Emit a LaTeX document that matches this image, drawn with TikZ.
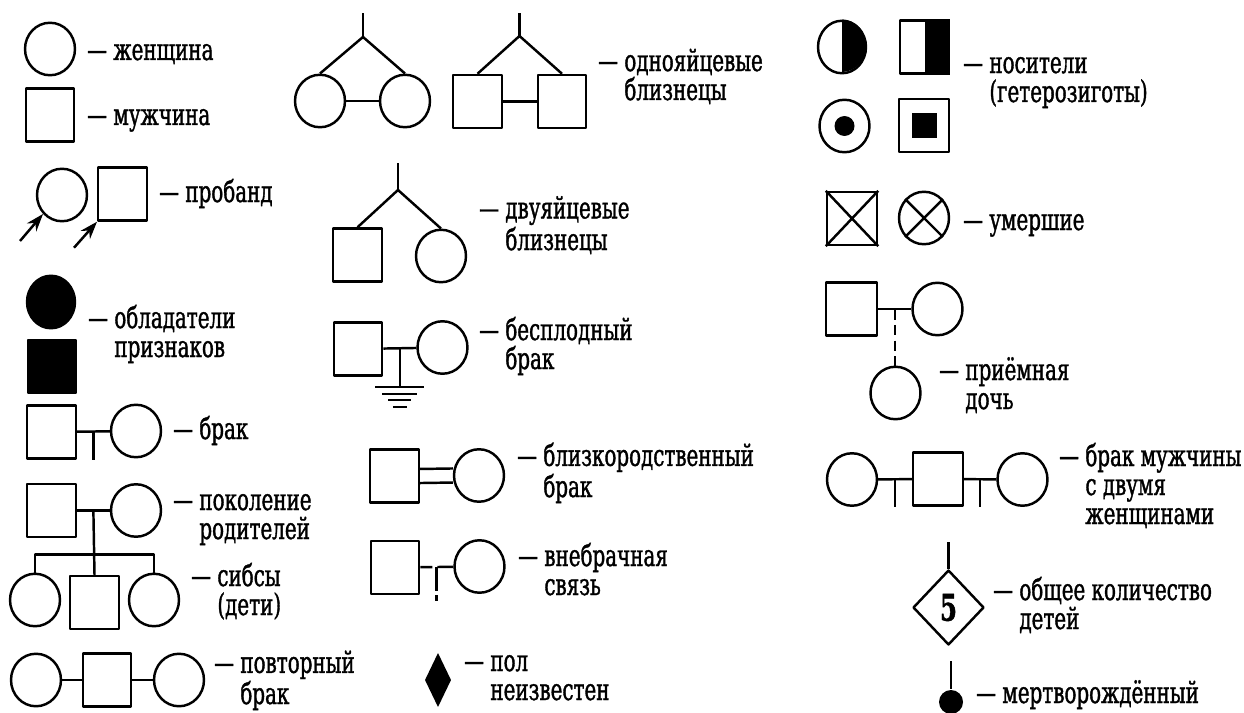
\documentclass[tikz,border=0pt]{standalone}
\usepackage{fontspec}
\setmainfont{DejaVu Serif}[FakeStretch=0.665, FakeBold=1.2]
\usetikzlibrary{shapes.geometric,arrows.meta}
\newcommand{\lgap}{\phantom{— }}
\begin{document}
\begin{tikzpicture}[x=0.02cm, y=-0.02cm, line width=1.4pt, line join=round,
	font=\fontsize{17}{16.5}\selectfont, >={Stealth[length=10pt,width=7pt]},
	fem/.style={ellipse, draw, inner sep=0pt, minimum width=1cm, minimum height=1.05cm},
	mal/.style={rectangle, draw, inner sep=0pt, minimum width=0.97cm, minimum height=1.06cm},
	lbl/.style={anchor=base west, align=left, inner sep=0pt}]
	\useasboundingbox (0,0) rectangle (1244,713);
	% левая колонка
	\node[fem] (W1) at (50,49) {};
	\node[lbl] (tW1) at (86,60) {— женщина};
	\node[mal] (M1) at (50,115) {};
	\node[lbl] (tM1) at (86,125) {— мужчина};
	\node[fem] (P1) at (62,195) {};
	\node[mal] (P2) at (122.5,194) {};
	\draw[<-] (P1.225) -- ++(-23,27);
	\draw[<-] (P2.south west) -- ++(-23,26);
	\node[lbl] (tP) at (158,202) {— пробанд};
	\node[fem, fill, minimum width=0.96cm] (A1) at (51,302) {};
	\node[mal, fill] (A2) at (52,366.5) {};
	\node[lbl] (tA) at (87,357) {— обладатели\\\lgap признаков};
	\node[mal] (B1) at (51.5,432) {};
	\node[fem] (B2) at (136,431) {};
	\draw (B1) -- coordinate[midway] (b12) (B2);
	\draw (b12) -- ++(0,28);
	\node[lbl] (tB) at (172,439) {— брак};
	\node[mal] (C1) at (51.5,510.5) {};
	\node[fem] (C2) at (136,510.5) {};
	\draw (C1) -- coordinate[midway] (c12) (C2);
	\node[fem] (K1) at (35,600) {};
	\node[mal] (K2) at (94.5,602.5) {};
	\node[fem] (K3) at (154,600) {};
	\draw (c12) -- (K2.north);
	\draw (K1.north) -- ++(0,-18) -| (K3.north);
	\node[lbl] (tC) at (172,539) {— поколение\\\lgap родителей};
	\node[lbl] (tK) at (190,615) {— сибсы\\\lgap (дети)};
	\node[fem] (R1) at (36,680) {};
	\node[mal] (R2) at (107,680) {};
	\node[fem] (R3) at (179,680) {};
	\draw (R1) -- (R2) -- (R3);
	\node[lbl] (tR) at (213,704) {— повторный\\\lgap брак};
	% средняя колонка
	\node[fem] (T1) at (320,101) {};
	\node[fem] (T2) at (405,101) {};
	\coordinate (tw1) at (363,37);
	\draw (tw1) -- ++(0,-24);
	\draw (T1.north) -- (tw1) -- (T2.north);
	\draw (T1) -- (T2);
	\node[mal] (T3) at (477.5,101.5) {};
	\node[mal] (T4) at (562,101.5) {};
	\coordinate (tw2) at (519.5,36);
	\draw (tw2) -- ++(0,-23);
	\draw (T3.north) -- (tw2) -- (T4.north);
	\draw (T3) -- (T4);
	\node[lbl] (tT) at (597,100) {— однояйцевые\\\lgap близнецы};
	\node[mal] (D1) at (357.5,255) {};
	\node[fem] (D2) at (441,256) {};
	\coordinate (tw3) at (398,190);
	\draw (tw3) -- ++(0,-27);
	\draw (D1.north) -- (tw3) -- (D2.north);
	\node[lbl] (tD) at (478,250) {— двуяйцевые\\\lgap близнецы};
	\node[mal] (E1) at (358,349) {};
	\node[fem] (E2) at (442.5,347.5) {};
	\draw (E1) -- coordinate[midway] (e12) (E2);
	\draw (e12) -- ++(0,39) coordinate (eg);
	\foreach \w/\dy in {24.5/0, 17.5/7, 11.5/13, 7/20}
		\draw[line width=0.9pt] (eg) ++(-\w,\dy) -- ++(2*\w,0);
	\node[lbl] (tE) at (478,369) {— бесплодный\\\lgap брак};
	\node[mal] (F1) at (394.5,476) {};
	\node[fem] (F2) at (479,475.5) {};
	\draw ([yshift=4pt]F1.east) -- ([yshift=4pt]F2.west);
	\draw ([yshift=-4pt]F1.east) -- ([yshift=-4pt]F2.west);
	\node[lbl] (tF) at (516,497) {— близкородственный\\\lgap брак};
	\node[mal] (G1) at (395,567.5) {};
	\node[fem] (G2) at (479.5,566.5) {};
	\draw[dash pattern=on 6.8pt off 2.8pt on 30pt] (G1) -- coordinate[pos=0.49] (g12) (G2);
	\draw[dash pattern=on 13.5pt off 2.5pt] (g12) -- ++(0,34);
	\node[lbl] (tG) at (517,595) {— внебрачная\\\lgap связь};
	\node[diamond, fill, inner sep=0pt, aspect=0.5, minimum width=0.54cm, minimum height=1.1cm] (U1) at (438,680) {};
	\node[lbl] (tU) at (463,700) {— пол\\\lgap неизвестен};
	% правая колонка
	\node[fem, minimum width=0.96cm] (H1) at (842,47) {};
	\fill (H1.north) arc[start angle=90, end angle=-90, x radius=0.48cm, y radius=0.525cm] -- cycle;
	\node[mal] (H2) at (924.5,47) {};
	\fill (H2.north) rectangle (H2.south east);
	\node[fem] (H3) at (844.5,126) {};
	\fill (H3) circle[radius=0.2cm];
	\node[mal, minimum width=1cm] (H4) at (924,125.5) {};
	\node[fill, inner sep=0pt, minimum width=0.5cm, minimum height=0.52cm] (H4c) at (H4) {};
	\node[lbl] (tH) at (962,102) {— носители\\\lgap (гетерозиготы)};
	\node[mal, minimum width=1cm] (X1) at (852,218.5) {};
	\draw (X1.north west) -- (X1.south east) (X1.north east) -- (X1.south west);
	\node[fem] (X2) at (924,218) {};
	\draw (X2.45) -- (X2.225) (X2.135) -- (X2.315);
	\node[lbl] (tX) at (962,230) {— умершие};
	\node[mal, minimum width=1.02cm] (J1) at (851.5,309) {};
	\node[fem] (J2) at (937.5,309) {};
	\node[fem] (J3) at (895.5,393) {};
	\draw (J1) -- coordinate[midway] (j12) (J2);
	\draw[dash pattern=on 6pt off 3pt] (j12) -- (j12 |- J3.north);
	\node[lbl] (tJ) at (938,409) {— приёмная\\\lgap дочь};
	\node[fem] (L1) at (852,479.5) {};
	\node[mal, minimum width=1cm] (L2) at (938,479) {};
	\node[fem] (L3) at (1022.5,479.5) {};
	\draw (L1) -- coordinate[midway] (l12) (L2);
	\draw (L2) -- coordinate[midway] (l23) (L3);
	\draw (l12) -- ++(0,28) (l23) -- ++(0,28);
	\node[lbl] (tL) at (1058,524) {— брак мужчины\\\lgap с двумя\\\lgap женщинами};
	\node[diamond, draw, inner sep=0pt, minimum width=1.42cm, minimum height=1.5cm] (N1) at (948.5,607.5) {\fontsize{21}{21}\selectfont\bfseries 5};
	\draw (N1.north) -- ++(0,-27);
	\node[lbl] (tN) at (992,629) {— общее количество\\\lgap детей};
	\node[circle, fill, inner sep=0pt, minimum size=0.48cm] (S1) at (951,702) {};
	\draw (S1.north) -- ++(0,-28);
	\node[lbl] (tS) at (975,703) {— мертворождённый};
\end{tikzpicture}
\end{document}
